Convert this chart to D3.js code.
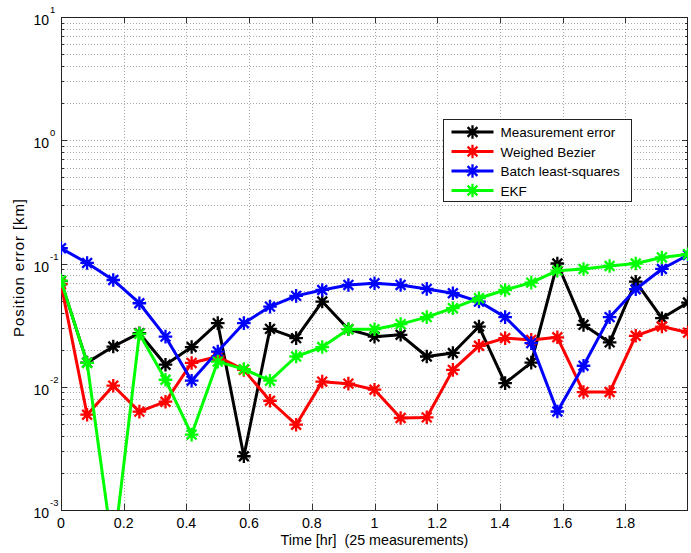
<!DOCTYPE html>
<html>
<head>
<meta charset="utf-8">
<script src="https://cdn.jsdelivr.net/npm/d3@7"></script>
<style>
  body { margin: 0; background: #fff; }
  svg { display: block; font-family: "Liberation Sans", Arial, sans-serif; }
</style>
</head>
<body>
<script>
// time of each measurement [hr]
var times = [0, 0.0833, 0.1667, 0.25, 0.3333, 0.4167, 0.5, 0.5833, 0.6667, 0.75, 0.8333, 0.9167,
             1, 1.0833, 1.1667, 1.25, 1.3333, 1.4167, 1.5, 1.5833, 1.6667, 1.75, 1.8333, 1.9167, 2];

// position errors [km]
var measErr = [0.072, 0.0157, 0.0212, 0.0272, 0.0151, 0.0210, 0.0328, 0.00273, 0.0295, 0.0248, 0.0491, 0.0293,
               0.0255, 0.0264, 0.0176, 0.0188, 0.0308, 0.0107, 0.0157, 0.100, 0.0318, 0.0229, 0.0712, 0.036, 0.0482];
var bezier  = [0.068, 0.00593, 0.0102, 0.00628, 0.00756, 0.0156, 0.0176, 0.0137, 0.0077, 0.00492, 0.0110, 0.0106,
               0.00946, 0.00558, 0.00564, 0.0137, 0.0215, 0.0248, 0.0240, 0.0252, 0.00906, 0.00906, 0.0259, 0.0308, 0.0275];
var batchLS = [0.133, 0.101, 0.0735, 0.0476, 0.0255, 0.0112, 0.0193, 0.0328, 0.0447, 0.0546, 0.061, 0.067,
               0.0691, 0.067, 0.0622, 0.0574, 0.0491, 0.0367, 0.0226, 0.0063, 0.0148, 0.0367, 0.0618, 0.0903, 0.117];
var ekf     = [0.0726, 0.0156, 0.00045, 0.0269, 0.0114, 0.00409, 0.016, 0.0139, 0.0112, 0.0176, 0.021, 0.0293,
               0.0293, 0.0322, 0.0367, 0.0434, 0.0523, 0.061, 0.070, 0.0875, 0.0903, 0.0955, 0.1, 0.112, 0.119];

var seriesNames  = ["Measurement error", "Weighed Bezier", "Batch least-squares", "EKF"];
var seriesColors = ["#000000", "#ff0000", "#0000ff", "#00ff00"];
var seriesValues = [measErr, bezier, batchLS, ekf];

var xTicks = [0, 0.2, 0.4, 0.6, 0.8, 1, 1.2, 1.4, 1.6, 1.8];
var yExponents = [1, 0, -1, -2, -3];

var W = 691, H = 553;
var m = {left: 61, top: 17, right: 3, bottom: 43};
var pw = W - m.left - m.right, ph = H - m.top - m.bottom;

var x = d3.scaleLinear().domain([0, 2]).range([0, pw]);
var y = d3.scaleLog().domain([1e-3, 1e1]).range([ph, 0]);

var svg = d3.select("body").append("svg")
    .attr("width", W).attr("height", H);

svg.append("rect").attr("width", W).attr("height", H).attr("fill", "#fff");

var g = svg.append("g").attr("transform", `translate(${m.left},${m.top})`);

g.append("defs").append("clipPath").attr("id", "clip")
  .append("rect").attr("width", pw).attr("height", ph);

// minor + major y values for log grid
var yGrid = [];
for (var e = -3; e < 1; e++)
  for (var k = 1; k < 10; k++) yGrid.push(k * Math.pow(10, e));
yGrid.push(10);

var grid = g.append("g")
    .attr("stroke", "#a8a8a8")
    .attr("stroke-width", 1)
    .attr("stroke-dasharray", "1,2");

grid.selectAll("line.gy")
  .data(yGrid.filter(v => v > 1e-3 && v < 10))
  .join("line")
    .attr("class", "gy")
    .attr("x1", 0).attr("x2", pw)
    .attr("y1", d => Math.round(y(d)) + 0.5)
    .attr("y2", d => Math.round(y(d)) + 0.5);

grid.selectAll("line.gx")
  .data(xTicks.filter(v => v > 0))
  .join("line")
    .attr("class", "gx")
    .attr("y1", 0).attr("y2", ph)
    .attr("x1", d => Math.round(x(d)) + 0.5)
    .attr("x2", d => Math.round(x(d)) + 0.5);

// ticks (inside, all four sides)
var tk = g.append("g").attr("stroke", "#333").attr("stroke-width", 1);
xTicks.forEach(function(v) {
  var px = Math.round(x(v)) + 0.5;
  tk.append("line").attr("x1", px).attr("x2", px).attr("y1", ph).attr("y2", ph - 6);
  tk.append("line").attr("x1", px).attr("x2", px).attr("y1", 0).attr("y2", 6);
});
yGrid.forEach(function(v) {
  var py = Math.round(y(v)) + 0.5;
  var major = Math.abs(Math.log10(v) - Math.round(Math.log10(v))) < 1e-9;
  var len = major ? 6 : 3;
  tk.append("line").attr("x1", 0).attr("x2", len).attr("y1", py).attr("y2", py);
  tk.append("line").attr("x1", pw).attr("x2", pw - len).attr("y1", py).attr("y2", py);
});

// box
g.append("rect")
    .attr("x", 0.5).attr("y", 0.5)
    .attr("width", pw - 1).attr("height", ph)
    .attr("fill", "none").attr("stroke", "#222");

// tick labels
g.append("g").selectAll("text")
  .data(xTicks)
  .join("text")
    .attr("x", d => x(d))
    .attr("y", ph + 18)
    .attr("text-anchor", "middle")
    .attr("font-size", 14.2)
    .text(d => d3.format("")(d));

var yl = g.append("g").selectAll("g")
  .data(yExponents)
  .join("g")
    .attr("transform", d => `translate(0,${y(Math.pow(10, d))})`);
yl.append("text")
    .attr("x", -12).attr("y", 8)
    .attr("text-anchor", "end")
    .attr("font-size", 14)
    .text("10");
yl.append("text")
    .attr("x", -11).attr("y", -4)
    .attr("font-size", 9.5)
    .text(d => d < 0 ? "-" + (-d) : d);

// axis labels
svg.append("text")
    .attr("x", m.left + pw / 2).attr("y", 545)
    .attr("text-anchor", "middle")
    .attr("font-size", 14.3)
    .style("white-space", "pre")
    .text("Time [hr]  (25 measurements)");

svg.append("text")
    .attr("transform", `translate(24,${m.top + ph / 2 + 4}) rotate(-90)`)
    .attr("text-anchor", "middle")
    .attr("font-size", 15)
    .attr("letter-spacing", 0.9)
    .text("Position error [km]");

// asterisk marker
function star(r) {
  var d = r * 0.72;
  return `M${-r},0L${r},0M0,${-r}L0,${r}M${-d},${-d}L${d},${d}M${-d},${d}L${d},${-d}`;
}

var plot = g.append("g").attr("clip-path", "url(#clip)");
var line = d3.line().x((d, i) => x(times[i])).y(d => y(d));

seriesValues.forEach(function(vals, si) {
  var s = plot.append("g");
  s.append("path")
      .attr("d", line(vals))
      .attr("fill", "none")
      .attr("stroke", seriesColors[si])
      .attr("stroke-width", 3)
      .attr("stroke-linejoin", "round");
  s.selectAll("path.mk")
    .data(vals)
    .join("path")
      .attr("class", "mk")
      .attr("transform", (d, i) => `translate(${x(times[i])},${y(d)})`)
      .attr("d", star(6.8))
      .attr("stroke", seriesColors[si])
      .attr("stroke-width", 2.3);
});

// legend
var lg = svg.append("g").attr("transform", "translate(443.5,119.5)");
lg.append("rect")
    .attr("width", 188).attr("height", 82)
    .attr("fill", "#fff").attr("stroke", "#222");
seriesNames.forEach(function(name, i) {
  var cy = 12.5 + i * 19.5;
  lg.append("line")
      .attr("x1", 8).attr("x2", 50).attr("y1", cy).attr("y2", cy)
      .attr("stroke", seriesColors[i]).attr("stroke-width", 3);
  lg.append("path")
      .attr("transform", `translate(29,${cy})`)
      .attr("d", star(6.8))
      .attr("stroke", seriesColors[i]).attr("stroke-width", 2.3);
  lg.append("text")
      .attr("x", 57).attr("y", cy + 5)
      .attr("font-size", 13.5)
      .text(name);
});
</script>
</body>
</html>
